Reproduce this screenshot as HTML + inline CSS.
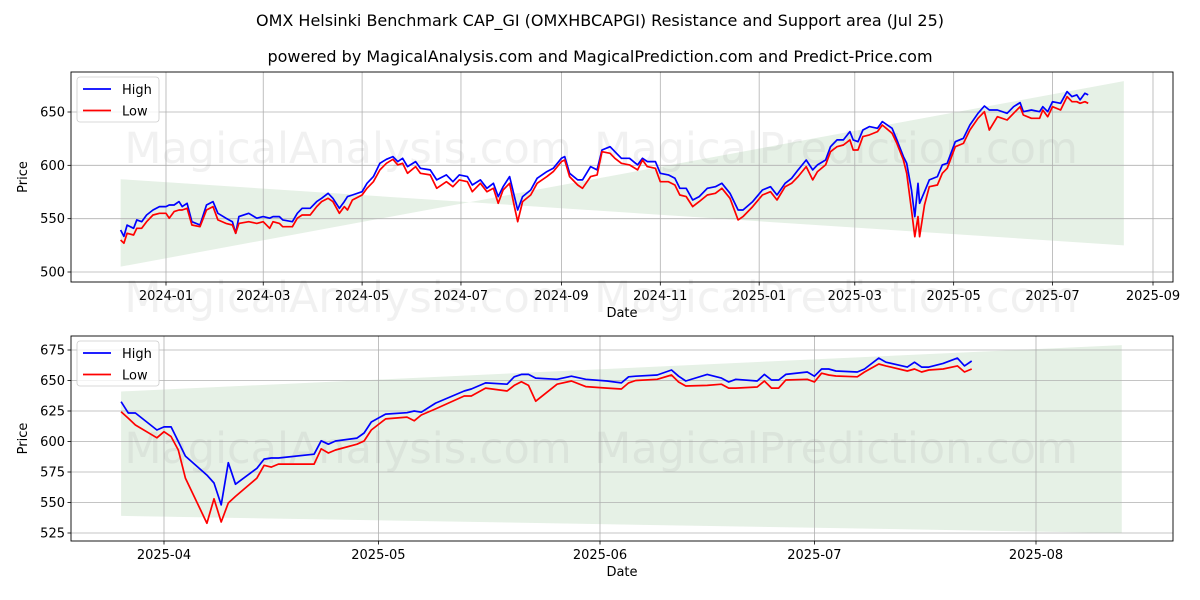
<!DOCTYPE html>
<html><head><meta charset="utf-8"><style>
html,body{margin:0;padding:0;background:#fff;}
svg{display:block;font-family:"DejaVu Sans","Liberation Sans",sans-serif;}
</style></head><body>
<svg id="chart" width="1200" height="600" viewBox="0 0 1200 600">
<text x="600" y="26" text-anchor="middle" font-size="16">OMX Helsinki Benchmark CAP_GI (OMXHBCAPGI) Resistance and Support area (Jul 25)</text>
<text x="600" y="62" text-anchor="middle" font-size="16">powered by MagicalAnalysis.com and MagicalPrediction.com and Predict-Price.com</text>
<g id="top"></g>
<g id="bot"></g>
</svg>
<script>
// ---- Top chart data ----
const topDates = ["2023-12-04","2023-12-06","2023-12-08","2023-12-12","2023-12-14","2023-12-17","2023-12-20","2023-12-24","2023-12-28","2024-01-01","2024-01-03","2024-01-06","2024-01-09","2024-01-11","2024-01-14","2024-01-17","2024-01-22","2024-01-26","2024-01-30","2024-02-02","2024-02-07","2024-02-11","2024-02-13","2024-02-15","2024-02-21","2024-02-26","2024-03-01","2024-03-05","2024-03-07","2024-03-11","2024-03-13","2024-03-19","2024-03-22","2024-03-25","2024-03-30","2024-04-03","2024-04-06","2024-04-10","2024-04-13","2024-04-17","2024-04-20","2024-04-22","2024-04-25","2024-05-01","2024-05-04","2024-05-08","2024-05-12","2024-05-16","2024-05-20","2024-05-23","2024-05-26","2024-05-29","2024-06-03","2024-06-06","2024-06-12","2024-06-16","2024-06-22","2024-06-26","2024-06-30","2024-07-05","2024-07-08","2024-07-13","2024-07-17","2024-07-21","2024-07-24","2024-07-27","2024-07-31","2024-08-03","2024-08-05","2024-08-08","2024-08-13","2024-08-17","2024-08-23","2024-08-27","2024-09-01","2024-09-03","2024-09-06","2024-09-11","2024-09-14","2024-09-19","2024-09-23","2024-09-26","2024-10-01","2024-10-04","2024-10-08","2024-10-13","2024-10-18","2024-10-21","2024-10-24","2024-10-29","2024-11-01","2024-11-06","2024-11-10","2024-11-13","2024-11-17","2024-11-21","2024-11-25","2024-11-30","2024-12-05","2024-12-09","2024-12-14","2024-12-19","2024-12-22","2024-12-28","2025-01-03","2025-01-08","2025-01-12","2025-01-17","2025-01-21","2025-01-25","2025-01-30","2025-02-03","2025-02-06","2025-02-11","2025-02-14","2025-02-18","2025-02-22","2025-02-26","2025-02-28","2025-03-03","2025-03-06","2025-03-10","2025-03-15","2025-03-18","2025-03-24","2025-03-27","2025-03-31","2025-04-02","2025-04-05","2025-04-07","2025-04-09","2025-04-10","2025-04-13","2025-04-16","2025-04-21","2025-04-24","2025-04-27","2025-05-02","2025-05-07","2025-05-11","2025-05-16","2025-05-20","2025-05-23","2025-05-28","2025-06-03","2025-06-07","2025-06-11","2025-06-13","2025-06-18","2025-06-23","2025-06-25","2025-06-28","2025-07-01","2025-07-06","2025-07-10","2025-07-13","2025-07-16","2025-07-18","2025-07-21","2025-07-23"];
const topHigh = [539.4,533.4,544,541,548.8,547.2,553.4,558.1,561.3,561.3,562.8,562.8,566,561.3,564.4,547.2,544.1,562.8,566,555,550.4,547.2,536.3,551.9,555,550.4,551.9,550.4,551.9,551.9,548.8,547.2,555,559.7,559.7,566,569.1,573.8,569.1,559.7,566,570.7,572.2,575.3,583.2,589.4,601.9,605.7,608.2,603.5,606.6,598.8,603.5,597.2,595.7,586.3,591,584.7,591,589.4,581.6,586.3,578.5,583.2,570.7,580,589.4,570.7,558.1,570.7,576.9,587.8,594.1,597.2,606.6,608.2,592.5,586.3,586.3,598.8,595.7,614.4,617.5,612.8,606.6,606.6,600.4,606.6,603.5,603.5,592.5,591,587.8,578.5,578.5,567.5,570.7,578.5,580,583.2,573.8,558.1,558.1,566,576.9,580,572.2,583.2,587.8,595.7,605,595.7,600.4,605,617.5,623.8,623.8,631.6,623.8,622.2,633.1,636.3,634.7,641,634.7,623.8,608.2,601.9,576.9,551.9,583.2,564.4,575.3,586.3,589.4,600.4,601.9,622.2,625.3,637.8,648.8,655.6,651.9,651.9,648.8,655,658.8,650.3,651.9,650.3,655,650.3,659.7,658.2,669.1,664.4,666,661.3,667.5,666];
const topLow = [530,527,536.3,534.7,541,541,547.2,553.4,555,555,550.4,556.6,558.1,558.1,559.7,544.1,542.5,558.1,561.3,548.8,545.6,544.1,536.3,545.6,547.2,545.6,547.2,541,547.2,545.6,542.5,542.5,550.4,553.4,553.4,561.3,566,569.1,566,555,561.3,558.1,567.5,572.2,578.5,584.7,595.7,601.9,605.7,600.4,601.9,592.5,598.8,592.5,591,578.5,584.7,580,586.3,584.7,575.3,583.2,575.3,578.5,564.4,576.9,583.2,561.3,547.2,566,572.2,583.2,589.4,594.1,603.5,605,589.4,581.6,578.5,589.4,591,612.8,611.3,606.6,601.9,600.4,595.7,605,598.8,597.2,584.7,584.7,581.6,572.2,570.7,561.3,566,572.2,573.8,578.5,569.1,548.8,551.9,561.3,572.2,575.3,567.5,580,583.2,589.4,598.8,586.3,594.1,600.4,612.8,617.5,619.1,623.8,614.4,614.4,626.9,628.5,631.6,637.8,630,620.6,605,592.5,558.1,533.1,551.9,533.1,562.8,580,581.6,592.5,597.2,617.5,620.6,633.1,644.1,650.3,633.1,645.6,642.5,648.8,655,647.2,644.1,644.1,651.9,645.6,655,651.9,664.4,659.7,659.7,658.2,659.7,658.2];
const topBandDates = ["2023-12-04","2025-08-14"];
// line A: start -> end ; line B: start -> end
const topBandA = [587,525];
const topBandB = [505,679];
const topYTicks = [500,550,600,650];
const topXTicks = ["2024-01","2024-03","2024-05","2024-07","2024-09","2024-11","2025-01","2025-03","2025-05","2025-07","2025-09"];

// ---- Bottom chart data ----
const botDates = ["2025-03-26","2025-03-27","2025-03-28","2025-03-31","2025-04-01","2025-04-02","2025-04-03","2025-04-04","2025-04-07","2025-04-08","2025-04-09","2025-04-10","2025-04-11","2025-04-14","2025-04-15","2025-04-16","2025-04-17","2025-04-22","2025-04-23","2025-04-24","2025-04-25","2025-04-28","2025-04-29","2025-04-30","2025-05-02","2025-05-05","2025-05-06","2025-05-07","2025-05-09","2025-05-13","2025-05-14","2025-05-16","2025-05-19","2025-05-20","2025-05-21","2025-05-22","2025-05-23","2025-05-26","2025-05-28","2025-05-30","2025-06-02","2025-06-04","2025-06-05","2025-06-06","2025-06-09","2025-06-11","2025-06-12","2025-06-13","2025-06-16","2025-06-18","2025-06-19","2025-06-20","2025-06-23","2025-06-24","2025-06-25","2025-06-26","2025-06-27","2025-06-30","2025-07-01","2025-07-02","2025-07-03","2025-07-04","2025-07-07","2025-07-08","2025-07-10","2025-07-11","2025-07-14","2025-07-15","2025-07-16","2025-07-17","2025-07-19","2025-07-21","2025-07-22","2025-07-23"];
const botHigh = [632.6,623.4,623.4,609.4,612,612,600,588,572.5,566,548,582.6,565,578,585.6,586.5,586.5,589.6,600.6,597.8,600.4,602.8,607,616,622.5,623.6,625,624,631.5,641.4,643,648,647,653,655,655,652,651,653.5,651,649.6,648,653,653.5,654.5,658.6,653.5,649.6,655,652,648.8,651,649.6,655,650.4,650.4,655,657,653.5,659.4,659.4,657.8,657,659.4,668.4,665,661,665,661,661,664,668.4,662,666];
const botLow = [624.4,619,613.5,603,608,604,593,570,533,553,534,549.6,555,570,580.5,579,581.5,581.5,594,590.6,593,597.8,600.4,609.4,618.5,620,617,621.7,626.7,637.3,637.3,643.8,641.4,646,649,646,633,647,649.6,645,643.8,643,648,650,651,654.5,648.8,645.5,646,647,643.8,643.8,644.7,649.6,643.8,643.8,650.4,651,648.8,656,654.5,653.7,653,657,663.5,662,657.8,659.4,657,658.6,659.4,662,657,659.4];
const botBandDates = ["2025-03-26","2025-08-13"];
const botBandA = [641,679];
const botBandB = [539,525];
const botYTicks = [525,550,575,600,625,650,675];
const botXTicks = ["2025-04","2025-05","2025-06","2025-07","2025-08"];

const NS = "http://www.w3.org/2000/svg";
function mk(parent, tag, attrs){ const e=document.createElementNS(NS,tag); for(const k in attrs) e.setAttribute(k,attrs[k]); parent.appendChild(e); return e; }
function day(s){ const p=s.split("-").map(Number); return Date.UTC(p[0],p[1]-1,p[2]||1)/86400000; }

function drawPanel(g, cfg){
  const L=71,R=1173,T=cfg.top,B=cfg.bottom;
  const d0=day(cfg.refA[0]), d1=day(cfg.refB[0]);
  const xs = d => cfg.refA[1] + (day(d)-d0)*(cfg.refB[1]-cfg.refA[1])/(d1-d0);
  const ys = v => cfg.yA[1] + (v-cfg.yA[0])*(cfg.yB[1]-cfg.yA[1])/(cfg.yB[0]-cfg.yA[0]);
  const xs0=xs(cfg.bandDates[0]), xs1=xs(cfg.bandDates[1]);
  const band = mk(g,"polygon",{points:[[xs0,ys(cfg.bandA[0])],[xs1,ys(cfg.bandA[1])],[xs1,ys(cfg.bandB[1])],[xs0,ys(cfg.bandB[0])]].map(p=>p.join(",")).join(" "),fill:"#e6f1e6"});
  
  
  cfg.yTicks.forEach(v=>{
    const y=ys(v);
    const gl=mk(g,"line",{x1:L,x2:R,y1:y,y2:y,stroke:"#b0b0b0","stroke-width":0.8});
    
    
    mk(g,"line",{x1:L-3.5,x2:L,y1:y,y2:y,stroke:"#000","stroke-width":0.8});
    const t=mk(g,"text",{x:L-6,y:y+4.5,"text-anchor":"end","font-size":13});
    t.textContent=v;
    
    
  });
  cfg.xTicks.forEach(s=>{
    const x=xs(s+"-01");
    const gl=mk(g,"line",{x1:x,x2:x,y1:T,y2:B,stroke:"#b0b0b0","stroke-width":0.8});
    
    
    mk(g,"line",{x1:x,x2:x,y1:B,y2:B+3.5,stroke:"#000","stroke-width":0.8});
    const t=mk(g,"text",{x:x,y:B+18,"text-anchor":"middle","font-size":13});
    t.textContent=s;
    
    
  });
  cfg.marks.forEach(m=>{
    const t=mk(g,"text",{x:m[0],y:m[1],"text-anchor":"middle","font-size":43,fill:"#888","fill-opacity":0.12});
    t.textContent=m[2];
    
    
  });
  const hp=mk(g,"polyline",{points:cfg.dates.map((d,i)=>xs(d).toFixed(1)+","+ys(cfg.high[i]).toFixed(1)).join(" "),fill:"none",stroke:"#0000ff","stroke-width":1.7,"stroke-linejoin":"round"});
  
  
  const lp=mk(g,"polyline",{points:cfg.dates.map((d,i)=>xs(d).toFixed(1)+","+ys(cfg.low[i]).toFixed(1)).join(" "),fill:"none",stroke:"#ff0000","stroke-width":1.7,"stroke-linejoin":"round"});
  
  
  const fr=mk(g,"rect",{x:L,y:T,width:R-L,height:B-T,fill:"none",stroke:"#000","stroke-width":0.9});
  
  
  const xl=mk(g,"text",{x:(L+R)/2,y:B+35,"text-anchor":"middle","font-size":13});
  xl.textContent="Date";
  
  
  const yl=mk(g,"text",{x:0,y:0,"text-anchor":"middle","font-size":13,transform:`translate(27,${(T+B)/2}) rotate(-90)`});
  yl.textContent="Price";
  
  
  const lg=mk(g,"g",{});
  
  
  mk(lg,"rect",{x:77,y:T+5,width:82,height:45,rx:3,fill:"#fff","fill-opacity":0.8,stroke:"#ccc","stroke-width":0.8});
  [["High","#0000ff"],["Low","#ff0000"]].forEach((e,i)=>{
    const y=T+17+i*21.5;
    const le=mk(lg,"g",{});
    
    
    mk(le,"line",{x1:83,x2:111,y1:y,y2:y,stroke:e[1],"stroke-width":1.7});
    const t=mk(le,"text",{x:122,y:y+5,"font-size":13});
    t.textContent=e[0];
  });
}

drawPanel(document.getElementById("top"),{
  top:72,bottom:282,refA:["2024-01-01",166],refB:["2025-09-01",1153],yA:[500,272],yB:[650,112],
  dates:topDates,high:topHigh,low:topLow,bandDates:topBandDates,bandA:topBandA,bandB:topBandB,
  yTicks:topYTicks,xTicks:topXTicks,
  marks:[[348,163,"MagicalAnalysis.com"],[836,163,"MagicalPrediction.com"],[348,312,"MagicalAnalysis.com"],[836,312,"MagicalPrediction.com"]]
});
drawPanel(document.getElementById("bot"),{
  top:336,bottom:541,refA:["2025-04-01",164],refB:["2025-08-01",1036],yA:[525,533],yB:[675,350],
  dates:botDates,high:botHigh,low:botLow,bandDates:botBandDates,bandA:botBandA,bandB:botBandB,
  yTicks:botYTicks,xTicks:botXTicks,
  marks:[[348,463,"MagicalAnalysis.com"],[836,463,"MagicalPrediction.com"]]
});
</script>
</body></html>
